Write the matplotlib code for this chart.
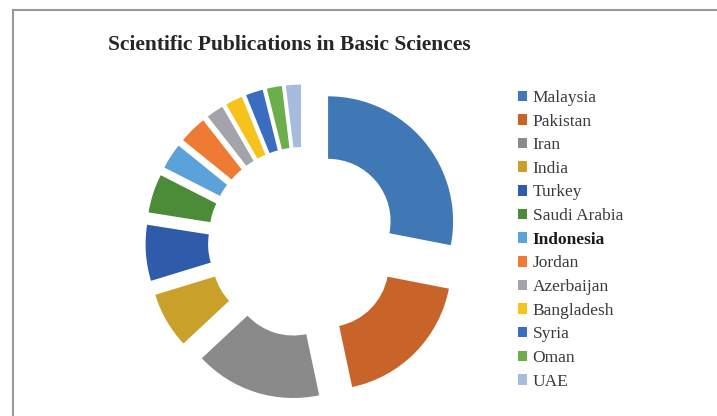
import numpy as np
import matplotlib.pyplot as plt
from matplotlib.lines import Line2D

countries = ["Malaysia", "Pakistan", "Iran", "India", "Turkey", "Saudi Arabia",
             "Indonesia", "Jordan", "Azerbaijan", "Bangladesh", "Syria", "Oman", "UAE"]
publications = [101, 67, 59, 26, 26, 18, 12, 13, 8, 8, 8, 7, 7]
colors = ["#3F78B5", "#C8642A", "#8A8A8A", "#C9A02A", "#2E5BAA", "#4C8B37",
          "#5BA2DA", "#EE7A33", "#A3A3AB", "#F6C21C", "#3A6CC0", "#6DAE4C", "#A7BCDD"]

plt.rcParams['font.family'] = ['Liberation Serif', 'DejaVu Serif']

W, H = 717, 416
fig = plt.figure(figsize=(W / 100, H / 100), dpi=100)

# chart frame (only top and left edges are visible in the reference)
fig.add_artist(Line2D([13 / W, 1], [1 - 10 / H, 1 - 10 / H], color="#9a9a9a", lw=1.5))
fig.add_artist(Line2D([13 / W, 13 / W], [0, 1 - 10 / H], color="#9a9a9a", lw=1.5))

# donut axes: 400 px square, centre at (303, 242) px from top-left
cx, cy, size = 303, 242, 400
ax = fig.add_axes([(cx - size / 2) / W, (H - cy - size / 2) / H, size / W, size / H])

wedges, _ = ax.pie(publications, colors=colors, startangle=90, counterclock=False,
                   explode=[0.26] * len(publications), radius=1.0,
                   wedgeprops=dict(width=0.5, edgecolor='none'))
# pie() resets the limits, so fix them afterwards
ax.set_xlim(-1.6, 1.6)
ax.set_ylim(-1.6, 1.6)
ax.set_aspect('equal')
ax.axis('off')

fig.text(289 / W, 1 - 45 / H, "Scientific Publications in Basic Sciences",
         ha='center', va='center', fontsize=15.5, fontweight='bold', color="#262626")

leg = fig.legend(wedges, countries, loc='upper left', bbox_to_anchor=(511 / W, 1 - 83 / H),
                 frameon=False, fontsize=12.5, handlelength=0.55, handleheight=0.55,
                 handletextpad=0.3, labelspacing=0.44, borderaxespad=0)
for t in leg.get_texts():
    t.set_color("#3a3a3a")
    if t.get_text() == "Indonesia":
        t.set_fontweight('bold')
        t.set_color("#1a1a1a")

fig.savefig("out.png", dpi=100)
